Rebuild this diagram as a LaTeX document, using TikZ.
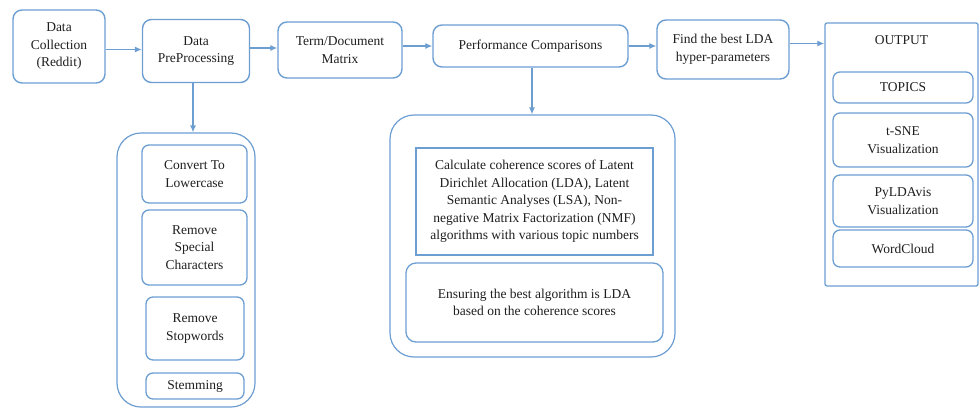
\documentclass[tikz,border=0pt]{standalone}
\usepackage{fontspec}
\setmainfont{Liberation Serif}
\newfontfamily\flowfont{Liberation Serif}
\usetikzlibrary{arrows.meta}
\definecolor{flowblue}{RGB}{108,158,210}
\definecolor{flowtext}{RGB}{30,30,30}
\begin{document}
\begin{tikzpicture}[
          x=1pt, y=-1pt,
          every node/.style={font=\flowfont\fontsize{13.5}{17.5}\selectfont, text=flowtext, align=center, inner sep=0pt},
          box/.style={draw=flowblue, line width=1.4pt, rounded corners=9pt},
          subbox/.style={draw=flowblue, line width=1.3pt, rounded corners=7pt},
          group/.style={draw=flowblue, line width=1.2pt, rounded corners=24pt},
          flow/.style={-{Latex[length=7pt,width=6pt]}, draw=flowblue, line width=1.2pt}
        ]
        \useasboundingbox (0,0) rectangle (979,415);

        % main row
        \node[box, minimum width=92pt, minimum height=73pt] (collect) at (59,46.5) {Data\\Collection\\(Reddit)};
        \node[box, minimum width=107pt, minimum height=63pt] (prepro) at (196,51) {Data\\PreProcessing};
        \node[box, minimum width=124pt, minimum height=56pt] (termdoc) at (340,50) {Term/Document\\Matrix};
        \node[box, minimum width=195pt, minimum height=42pt] (perf) at (530.5,46) {Performance Comparisons};
        \node[box, minimum width=132pt, minimum height=59pt] (bestlda) at (723,49.5) {Find the best LDA\\hyper-parameters};

        % output column
        \node[draw=flowblue, line width=1.3pt, rounded corners=2pt, minimum width=153pt, minimum height=263pt] (output) at (901.5,154.5) {};
        \node (outtitle) at (901.5,40) {OUTPUT};
        \node[subbox, minimum width=140pt, minimum height=31pt] (topics) at (903,87.5) {TOPICS};
        \node[subbox, minimum width=140pt, minimum height=54pt] (tsne) at (903,140) {t-SNE\\Visualization};
        \node[subbox, minimum width=140pt, minimum height=52pt] (pyldavis) at (903,201) {PyLDAvis\\Visualization};
        \node[subbox, minimum width=140pt, minimum height=37pt] (wordcloud) at (903,248.5) {WordCloud};

        % preprocessing steps
        \node[group, minimum width=138pt, minimum height=274pt] (steps) at (186,270) {};
        \node[subbox, minimum width=105pt, minimum height=58pt] (lower) at (194.5,174) {Convert To\\Lowercase};
        \node[subbox, minimum width=105pt, minimum height=75pt] (special) at (194.5,247.5) {Remove\\Special\\Characters};
        \node[subbox, minimum width=98pt, minimum height=63pt] (stopwords) at (195,328.5) {Remove\\Stopwords};
        \node[subbox, minimum width=98pt, minimum height=26pt] (stem) at (195,386) {Stemming};

        % comparison details
        \node[group, minimum width=285pt, minimum height=242pt] (compare) at (532.5,236) {};
        \node[draw=flowblue, line width=1.3pt, minimum width=237pt, minimum height=107pt] (coherence) at (534.5,201.5)
            {Calculate coherence scores of Latent\\Dirichlet Allocation (LDA), Latent\\Semantic Analyses (LSA), Non-\\negative Matrix Factorization (NMF)\\algorithms with various topic numbers};
        \node[subbox, rounded corners=10pt, minimum width=257pt, minimum height=79pt] (ensure) at (534.5,302.5)
            {Ensuring the best algorithm is LDA\\based on the coherence scores};

        \draw[flow] ([yshift=-3pt]collect.east) -- ([yshift=-3pt]collect.east -| prepro.west);
        \draw[flow] ([yshift=3pt]prepro.east) -- ([yshift=3pt]prepro.east -| termdoc.west);
        \draw[flow] (perf.west -| termdoc.east) -- (perf.west);
        \draw[flow] (perf.east) -- (perf.east -| bestlda.west);
        \draw[flow] ([yshift=6pt]bestlda.east) -- ([yshift=6pt]bestlda.east -| output.west);
        \draw[flow] ([xshift=-3pt]prepro.south) -- ([xshift=-3pt]prepro.south |- steps.north);
        \draw[flow] ([xshift=1.5pt]perf.south) -- ([xshift=1.5pt]perf.south |- compare.north);
        \end{tikzpicture}
\end{document}
